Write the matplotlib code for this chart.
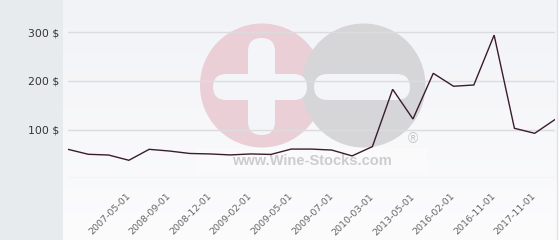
import matplotlib
matplotlib.use("Agg")
import matplotlib.pyplot as plt
import numpy as np
from matplotlib.patches import Rectangle, Circle, FancyBboxPatch

# ---- data ----
prices = [59.5, 49.3, 47.8, 37.0, 59.5, 56.0, 51.0, 50.0, 48.0, 50.0, 49.0,
          60.0, 60.0, 58.0, 46.0, 65.0, 182.7, 121.8, 215.6, 189.0, 191.6,
          294.0, 102.7, 92.4, 120.7]
date_labels = ["2007-05-01", "2008-09-01", "2008-12-01", "2009-02-01",
               "2009-05-01", "2009-07-01", "2010-03-01", "2013-05-01",
               "2016-02-01", "2016-11-01", "2017-11-01"]
y_ticks = [100, 200, 300]
y_tick_labels = ["100 $", "200 $", "300 $"]

W, H = 560, 240
fig = plt.figure(figsize=(W / 100, H / 100), dpi=100)
fig.patch.set_facecolor("white")

# ---- background + watermark (pixel coordinates) ----
bg = fig.add_axes([0, 0, 1, 1], zorder=0)
bg.set_xlim(0, W)
bg.set_ylim(H, 0)
bg.axis("off")
grad = np.linspace(0, 1, 256).reshape(-1, 1)
top = np.array([0xf2, 0xf3, 0xf7]) / 255
bot = np.array([0xfc, 0xfc, 0xfd]) / 255
img = top[None, None, :] * (1 - grad[..., None]) + bot[None, None, :] * grad[..., None]
bg.imshow(img, extent=[63, 557, 240, 0], aspect="auto", zorder=0)
bg.add_patch(Rectangle((0, 0), 63, H, facecolor="#e7ebee", edgecolor="none", zorder=1))
bg.plot([556.5, 556.5], [0, H], color="#e2e2e6", lw=1, zorder=1)

# watermark
wm_bg = "#f4f5f8"
bg.add_patch(Rectangle((197, 148), 230, 26, facecolor="white", alpha=0.3,
                       edgecolor="none", zorder=2))
bg.add_patch(Circle((262, 85.5), 62, facecolor="#ebcfd6", edgecolor="none", zorder=3))
bg.add_patch(Circle((363.5, 85.5), 62, facecolor="#d6d6d8", edgecolor="none", zorder=4))
r = 13.5
bg.add_patch(FancyBboxPatch((248, 38), 27, 97, boxstyle=f"round,pad=0,rounding_size={r}",
                            facecolor=wm_bg, edgecolor="none", zorder=5))
bg.add_patch(FancyBboxPatch((213, 74), 94, 26, boxstyle=f"round,pad=0,rounding_size={r}",
                            facecolor=wm_bg, edgecolor="none", zorder=5))
bg.add_patch(FancyBboxPatch((314, 74), 96, 26, boxstyle=f"round,pad=0,rounding_size={r}",
                            facecolor=wm_bg, edgecolor="none", zorder=5))
bg.text(312, 161, "www.Wine-Stocks.com", ha="center", va="center",
        fontsize=10.5, fontweight="bold", color="#cdcdcf",
        family="Liberation Sans", zorder=6)
bg.text(413, 139, "®", ha="center", va="center", fontsize=10,
        color="#c6c6c8", family="Liberation Sans", zorder=6)

# ---- main chart ----
x0, x1 = 68, 555
y_zero = 178.3
ax = fig.add_axes([x0 / W, (H - y_zero) / H, (x1 - x0) / W, y_zero / H], zorder=2)
ax.set_facecolor("none")
px_per_unit = 0.487
ax.set_ylim(0, y_zero / px_per_unit)
n = len(prices)
xs = np.arange(n)
ax.set_xlim(0, n - 1)

for v in [0] + y_ticks:
    ax.axhline(v, color="#dcdcdf", lw=1, zorder=1)
ax.plot(xs, prices, color="#3a1c2c", lw=1.0, zorder=3, solid_joinstyle="miter")

for s in ax.spines.values():
    s.set_visible(False)

ax.set_yticks(y_ticks)
ax.set_yticklabels(y_tick_labels)
ax.tick_params(axis="y", length=0, pad=6, labelsize=7.8, labelcolor="#333333")

label_pos = list(range(3, n, 2))[:len(date_labels)]
ax.set_xticks(label_pos)
ax.set_xticklabels(date_labels, rotation=45, ha="right", va="center",
                   rotation_mode="anchor")
ax.tick_params(axis="x", length=0, pad=12, labelsize=6.8, labelcolor="#666666")

fig.savefig("out.png", dpi=100, facecolor=fig.get_facecolor())
